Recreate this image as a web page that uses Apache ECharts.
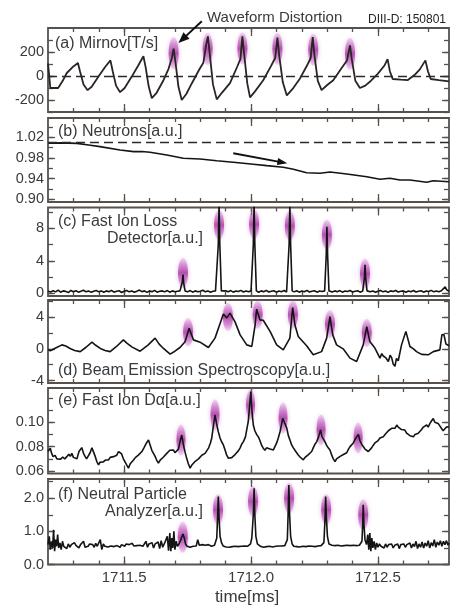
<!DOCTYPE html>
<html><head><meta charset="utf-8">
<script src="https://cdn.jsdelivr.net/npm/echarts@6/dist/echarts.min.js"></script>
<style>html,body{margin:0;padding:0;background:#fff}#c{width:453px;height:607px}</style>
</head><body><div id="c"></div>
<script>
// ---------------- DATA ----------------
const xRange = [1711.2, 1712.78];
const xMinorTicks = [1711.3,1711.4,1711.5,1711.6,1711.7,1711.8,1711.9,1712.0,1712.1,1712.2,1712.3,1712.4,1712.5,1712.6,1712.7];
const xMajorTicks = [1711.5,1712.0,1712.5];
const xTickLabels = [1711.5,1712.0,1712.5];

const yRangeA = [-300, 400], yTicksA = [-300,-200,-100,0,100,200,300], yLabelsA = [-200,0,200];
const yRangeB = [0.895, 1.057], yTicksB = [0.90,0.92,0.94,0.96,0.98,1.00,1.02,1.04], yLabelsB = [0.90,0.94,0.98,1.02];
const yRangeC = [-0.33, 10.56], yTicksC = [0,2,4,6,8,10], yLabelsC = [0,4,8];
const yRangeD = [-4.3, 6.15], yTicksD = [-4,-2,0,2,4,6], yLabelsD = [-4,0,4];
const yRangeE = [0.058, 0.128], yTicksE = [0.06,0.07,0.08,0.09,0.10,0.11,0.12], yLabelsE = [0.06,0.08,0.10];
const yRangeF = [0, 2.58], yTicksF = [0,0.5,1.0,1.5,2.0,2.5], yLabelsF = [0.0,1.0,2.0];

const panelTitles = ['(a) Mirnov[T/s]', '(b) Neutrons[a.u.]', '(c) Fast Ion Loss', 'Detector[a.u.]',
  '(d) Beam Emission Spectroscopy[a.u.]', '(e) Fast Ion D\u03b1[a.u.]', '(f) Neutral Particle', 'Analyzer[a.u.]'];
const topNote = 'Waveform Distortion';
const shotNote = 'DIII-D: 150801';
const xTitle = 'time[ms]';

const mirnovZero = 0;
const neutronRef = 1.0103;
const arrowA = [[1711.806, 456], [1711.714, 275]];
const arrowB = [[1711.930, 0.989], [1712.143, 0.9697]];

const mirnov = [[1711.200,105],[1711.204,20],[1711.209,-100],[1711.240,-100],[1711.258,-40],[1711.274,25],[1711.300,80],[1711.318,108],[1711.326,40],[1711.340,-70],[1711.356,-118],[1711.372,-90],[1711.399,-5],[1711.425,75],[1711.446,130],[1711.455,40],[1711.468,-80],[1711.484,-135],[1711.502,-100],[1711.530,-5],[1711.555,85],[1711.576,165],[1711.585,70],[1711.597,-90],[1711.609,-185],[1711.628,-140],[1711.655,-35],[1711.675,60],[1711.688,150],[1711.695,228],[1711.702,120],[1711.714,-90],[1711.727,-200],[1711.745,-150],[1711.767,-60],[1711.795,50],[1711.812,110],[1711.824,270],[1711.830,330],[1711.837,190],[1711.850,-70],[1711.865,-195],[1711.885,-140],[1711.917,-60],[1711.945,75],[1711.958,140],[1711.966,330],[1711.973,180],[1711.985,-60],[1711.996,-178],[1712.015,-130],[1712.048,-35],[1712.078,80],[1712.095,150],[1712.104,320],[1712.111,170],[1712.125,-50],[1712.141,-162],[1712.163,-110],[1712.193,-20],[1712.220,85],[1712.235,150],[1712.243,325],[1712.250,170],[1712.263,-40],[1712.278,-118],[1712.300,-75],[1712.324,-35],[1712.355,60],[1712.378,130],[1712.390,255],[1712.397,140],[1712.411,-40],[1712.429,-100],[1712.450,-80],[1712.468,-48],[1712.500,20],[1712.525,85],[1712.538,140],[1712.547,40],[1712.558,-25],[1712.590,-30],[1712.618,-34],[1712.645,10],[1712.665,55],[1712.687,130],[1712.697,40],[1712.708,-25],[1712.740,-35],[1712.780,-45]];

const neutrons = [[1711.202,1.0084],[1711.250,1.0090],[1711.314,1.0080],[1711.360,1.005],[1711.405,1.0018],[1711.484,0.9954],[1711.537,0.9921],[1711.570,0.9925],[1711.602,0.9910],[1711.668,0.9858],[1711.733,0.9794],[1711.799,0.9780],[1711.865,0.9747],[1711.930,0.9716],[1712.009,0.9678],[1712.062,0.9651],[1712.127,0.9620],[1712.167,0.9581],[1712.219,0.9515],[1712.272,0.9504],[1712.311,0.9529],[1712.377,0.9490],[1712.456,0.9438],[1712.508,0.9388],[1712.547,0.9407],[1712.587,0.9374],[1712.626,0.9374],[1712.692,0.9330],[1712.718,0.9361],[1712.780,0.9341]];

const fild = [[1711.20,0.30],[1711.21,0.15],[1711.22,0.32],[1711.23,0.18],[1711.24,0.40],[1711.25,0.14],[1711.26,0.30],[1711.27,0.24],[1711.28,0.10],[1711.29,0.35],[1711.30,0.20],[1711.31,0.32],[1711.32,0.14],[1711.33,0.26],[1711.34,0.38],[1711.35,0.18],[1711.36,0.30],[1711.37,0.12],[1711.38,0.26],[1711.39,0.36],[1711.40,0.18],[1711.41,0.30],[1711.42,0.14],[1711.43,0.30],[1711.44,0.20],[1711.45,0.36],[1711.46,0.14],[1711.47,0.26],[1711.48,0.32],[1711.49,0.10],[1711.50,0.26],[1711.51,0.34],[1711.52,0.18],[1711.53,0.30],[1711.54,0.14],[1711.55,0.26],[1711.56,0.40],[1711.57,0.20],[1711.58,0.30],[1711.59,0.12],[1711.60,0.30],[1711.61,0.20],[1711.62,0.36],[1711.63,0.14],[1711.64,0.26],[1711.65,0.30],[1711.66,0.18],[1711.67,0.34],[1711.68,0.14],[1711.69,0.30],[1711.70,0.20],[1711.71,0.26],[1711.72,0.30],[1711.726,0.25],[1711.729,1.4],[1711.732,2.3],[1711.735,1.2],[1711.740,0.3],[1711.75,0.18],[1711.76,0.34],[1711.77,0.14],[1711.78,0.30],[1711.79,0.20],[1711.80,0.26],[1711.81,0.38],[1711.82,0.18],[1711.83,0.30],[1711.84,0.14],[1711.85,0.26],[1711.86,0.30],[1711.866,0.25],[1711.871,6.0],[1711.874,11.0],[1711.877,6.0],[1711.883,0.30],[1711.89,0.16],[1711.90,0.30],[1711.91,0.20],[1711.92,0.34],[1711.93,0.14],[1711.94,0.28],[1711.95,0.22],[1711.96,0.36],[1711.97,0.16],[1711.98,0.28],[1711.99,0.20],[1712.000,0.30],[1712.004,0.25],[1712.009,6.0],[1712.012,11.0],[1712.015,6.0],[1712.021,0.30],[1712.03,0.14],[1712.04,0.30],[1712.05,0.20],[1712.06,0.36],[1712.07,0.16],[1712.08,0.26],[1712.09,0.32],[1712.10,0.14],[1712.11,0.28],[1712.12,0.20],[1712.13,0.34],[1712.14,0.16],[1712.145,0.25],[1712.150,6.0],[1712.153,11.0],[1712.156,6.0],[1712.162,0.30],[1712.17,0.18],[1712.18,0.32],[1712.19,0.14],[1712.20,0.28],[1712.21,0.20],[1712.22,0.36],[1712.23,0.16],[1712.24,0.26],[1712.25,0.32],[1712.26,0.14],[1712.27,0.28],[1712.28,0.22],[1712.29,0.30],[1712.293,0.25],[1712.296,4.5],[1712.299,8.2],[1712.302,4.5],[1712.307,0.30],[1712.32,0.16],[1712.33,0.30],[1712.34,0.20],[1712.35,0.34],[1712.36,0.14],[1712.37,0.28],[1712.38,0.22],[1712.39,0.34],[1712.40,0.16],[1712.41,0.26],[1712.42,0.32],[1712.43,0.14],[1712.44,0.28],[1712.444,0.25],[1712.447,2.0],[1712.449,3.5],[1712.452,1.8],[1712.457,0.30],[1712.47,0.18],[1712.48,0.30],[1712.49,0.14],[1712.50,0.26],[1712.51,0.34],[1712.52,0.18],[1712.53,0.28],[1712.54,0.12],[1712.55,0.30],[1712.56,0.22],[1712.57,0.34],[1712.58,0.16],[1712.59,0.26],[1712.60,0.30],[1712.61,0.14],[1712.62,0.28],[1712.63,0.20],[1712.64,0.34],[1712.65,0.16],[1712.66,0.26],[1712.67,0.32],[1712.68,0.14],[1712.69,0.28],[1712.70,0.22],[1712.71,0.36],[1712.72,0.18],[1712.73,0.28],[1712.74,0.20],[1712.75,0.32],[1712.765,0.8],[1712.77,0.45],[1712.78,0.25]];

const bes = [[1711.200,-0.1],[1711.209,-0.25],[1711.230,0.1],[1711.255,0.5],[1711.270,0.35],[1711.287,0.05],[1711.305,-0.2],[1711.327,-0.35],[1711.350,0.2],[1711.373,0.85],[1711.388,0.45],[1711.406,0.05],[1711.425,-0.2],[1711.445,-0.35],[1711.470,0.3],[1711.497,1.13],[1711.512,0.7],[1711.530,0.25],[1711.563,-0.3],[1711.595,0.5],[1711.622,1.35],[1711.638,0.6],[1711.655,0.05],[1711.681,-0.67],[1711.700,-0.3],[1711.720,0.17],[1711.740,0.9],[1711.756,2.6],[1711.773,1.13],[1711.799,0.84],[1711.832,0.17],[1711.858,1.35],[1711.878,3.2],[1711.891,4.4],[1711.904,3.9],[1711.917,4.5],[1711.937,3.4],[1711.957,1.76],[1711.983,0.5],[1712.003,0.3],[1712.016,3.0],[1712.022,5.0],[1712.035,3.65],[1712.048,3.6],[1712.075,2.2],[1712.101,0.5],[1712.127,-0.13],[1712.153,1.35],[1712.164,5.2],[1712.173,3.0],[1712.186,1.55],[1712.219,0.4],[1712.245,-0.75],[1712.278,-0.35],[1712.298,1.35],[1712.311,4.06],[1712.322,1.76],[1712.337,0.5],[1712.363,0.0],[1712.390,-1.17],[1712.416,-1.6],[1712.442,0.5],[1712.456,2.8],[1712.468,0.92],[1712.488,0.1],[1712.508,-1.17],[1712.515,-0.6],[1712.521,-0.9],[1712.530,-1.1],[1712.541,-1.6],[1712.548,-0.8],[1712.554,-1.1],[1712.560,-1.9],[1712.567,-2.2],[1712.573,-1.2],[1712.580,-1.5],[1712.593,0.5],[1712.610,2.2],[1712.626,0.3],[1712.640,0.0],[1712.652,-0.35],[1712.672,-0.7],[1712.698,-0.75],[1712.718,-0.35],[1712.744,-0.13],[1712.752,1.76],[1712.760,1.8],[1712.768,0.6],[1712.780,0.4]];

const dalpha = [[1711.200,0.0760],[1711.209,0.0787],[1711.215,0.0740],[1711.220,0.0718],[1711.228,0.0728],[1711.235,0.0700],[1711.241,0.0712],[1711.250,0.0698],[1711.258,0.0715],[1711.266,0.0700],[1711.274,0.0718],[1711.282,0.0738],[1711.288,0.0720],[1711.294,0.0745],[1711.300,0.0712],[1711.306,0.0700],[1711.314,0.0700],[1711.322,0.0760],[1711.333,0.0792],[1711.340,0.0745],[1711.346,0.0720],[1711.352,0.0700],[1711.359,0.0710],[1711.366,0.0750],[1711.373,0.0790],[1711.379,0.0800],[1711.386,0.0720],[1711.392,0.0680],[1711.399,0.0650],[1711.405,0.0672],[1711.412,0.0660],[1711.418,0.0675],[1711.426,0.0690],[1711.432,0.0705],[1711.438,0.0690],[1711.445,0.0712],[1711.452,0.0700],[1711.458,0.0718],[1711.464,0.0706],[1711.471,0.0730],[1711.478,0.0760],[1711.484,0.0773],[1711.490,0.0740],[1711.497,0.0700],[1711.504,0.0692],[1711.510,0.0650],[1711.517,0.0624],[1711.524,0.0660],[1711.530,0.0670],[1711.537,0.0690],[1711.544,0.0710],[1711.550,0.0700],[1711.556,0.0730],[1711.563,0.0740],[1711.570,0.0760],[1711.578,0.0790],[1711.588,0.0830],[1711.596,0.0855],[1711.603,0.0810],[1711.609,0.0770],[1711.615,0.0760],[1711.622,0.0720],[1711.628,0.0690],[1711.635,0.0665],[1711.642,0.0690],[1711.648,0.0700],[1711.655,0.0715],[1711.662,0.0730],[1711.668,0.0745],[1711.674,0.0755],[1711.680,0.0770],[1711.687,0.0760],[1711.694,0.0773],[1711.700,0.0750],[1711.707,0.0740],[1711.714,0.0780],[1711.720,0.0840],[1711.727,0.0895],[1711.733,0.0820],[1711.740,0.0755],[1711.747,0.0700],[1711.753,0.0660],[1711.760,0.0624],[1711.767,0.0650],[1711.773,0.0665],[1711.780,0.0680],[1711.787,0.0670],[1711.793,0.0700],[1711.799,0.0705],[1711.806,0.0730],[1711.812,0.0720],[1711.819,0.0745],[1711.826,0.0755],[1711.833,0.0790],[1711.840,0.0830],[1711.845,0.0868],[1711.851,0.0960],[1711.858,0.1059],[1711.864,0.0990],[1711.871,0.0922],[1711.878,0.0870],[1711.884,0.0840],[1711.891,0.0814],[1711.898,0.0770],[1711.904,0.0730],[1711.911,0.0705],[1711.917,0.0692],[1711.924,0.0710],[1711.930,0.0720],[1711.937,0.0735],[1711.944,0.0740],[1711.950,0.0765],[1711.957,0.0790],[1711.963,0.0820],[1711.970,0.0841],[1711.978,0.0880],[1711.984,0.0950],[1711.989,0.1004],[1711.995,0.1150],[1711.999,0.1250],[1712.004,0.1080],[1712.009,0.0977],[1712.015,0.0930],[1712.022,0.0900],[1712.029,0.0880],[1712.035,0.0850],[1712.042,0.0810],[1712.048,0.0787],[1712.055,0.0770],[1712.061,0.0790],[1712.068,0.0795],[1712.075,0.0780],[1712.081,0.0790],[1712.088,0.0773],[1712.094,0.0800],[1712.101,0.0830],[1712.107,0.0868],[1712.114,0.0920],[1712.120,0.0980],[1712.125,0.1032],[1712.133,0.0990],[1712.141,0.0950],[1712.147,0.0890],[1712.154,0.0850],[1712.160,0.0814],[1712.167,0.0790],[1712.173,0.0770],[1712.180,0.0755],[1712.186,0.0732],[1712.193,0.0715],[1712.199,0.0700],[1712.206,0.0692],[1712.212,0.0710],[1712.219,0.0720],[1712.226,0.0735],[1712.232,0.0740],[1712.239,0.0760],[1712.245,0.0790],[1712.252,0.0820],[1712.259,0.0841],[1712.266,0.0880],[1712.274,0.0936],[1712.280,0.0880],[1712.286,0.0860],[1712.291,0.0841],[1712.298,0.0810],[1712.304,0.0790],[1712.311,0.0773],[1712.318,0.0730],[1712.324,0.0700],[1712.331,0.0678],[1712.337,0.0700],[1712.344,0.0715],[1712.351,0.0720],[1712.357,0.0710],[1712.364,0.0735],[1712.371,0.0740],[1712.377,0.0750],[1712.384,0.0780],[1712.390,0.0800],[1712.396,0.0814],[1712.403,0.0830],[1712.410,0.0860],[1712.416,0.0880],[1712.423,0.0900],[1712.429,0.0850],[1712.436,0.0820],[1712.442,0.0801],[1712.449,0.0780],[1712.455,0.0770],[1712.462,0.0760],[1712.468,0.0755],[1712.475,0.0790],[1712.481,0.0810],[1712.488,0.0830],[1712.495,0.0841],[1712.501,0.0850],[1712.508,0.0870],[1712.515,0.0860],[1712.521,0.0880],[1712.528,0.0900],[1712.535,0.0910],[1712.541,0.0930],[1712.548,0.0940],[1712.554,0.0950],[1712.561,0.0960],[1712.567,0.0950],[1712.574,0.0977],[1712.580,0.0960],[1712.587,0.0950],[1712.593,0.0940],[1712.600,0.0930],[1712.606,0.0936],[1712.613,0.0910],[1712.620,0.0900],[1712.626,0.0890],[1712.633,0.0895],[1712.640,0.0880],[1712.646,0.0900],[1712.653,0.0890],[1712.659,0.0910],[1712.665,0.0922],[1712.672,0.0940],[1712.679,0.0960],[1712.685,0.0950],[1712.692,0.0977],[1712.698,0.0960],[1712.705,0.0990],[1712.711,0.1010],[1712.718,0.1030],[1712.724,0.1000],[1712.731,0.1010],[1712.737,0.0990],[1712.744,0.1004],[1712.750,0.0950],[1712.757,0.0930],[1712.764,0.0922],[1712.770,0.0960],[1712.780,0.0963]];

const npa = [[1711.200,0.60],[1711.205,0.85],[1711.209,0.45],[1711.214,0.70],[1711.218,0.50],[1711.222,1.05],[1711.226,0.40],[1711.230,0.75],[1711.234,0.55],[1711.238,0.90],[1711.242,0.50],[1711.247,0.65],[1711.252,0.45],[1711.257,0.70],[1711.262,0.55],[1711.268,0.60],[1711.274,0.48],[1711.280,0.62],[1711.286,0.52],[1711.292,0.60],[1711.298,0.56],[1711.304,0.66],[1711.310,0.58],[1711.316,0.62],[1711.322,0.50],[1711.328,0.60],[1711.334,0.56],[1711.340,0.70],[1711.346,0.52],[1711.352,0.58],[1711.358,0.55],[1711.364,0.62],[1711.370,0.57],[1711.376,0.60],[1711.382,0.52],[1711.388,0.64],[1711.394,0.55],[1711.400,0.60],[1711.406,0.75],[1711.412,0.45],[1711.418,0.62],[1711.424,0.55],[1711.430,0.60],[1711.436,0.53],[1711.442,0.58],[1711.448,0.56],[1711.454,0.62],[1711.460,0.54],[1711.466,0.60],[1711.472,0.57],[1711.478,0.63],[1711.484,0.52],[1711.490,0.60],[1711.496,0.58],[1711.502,0.55],[1711.508,0.62],[1711.514,0.56],[1711.520,0.60],[1711.526,0.54],[1711.532,0.64],[1711.538,0.56],[1711.544,0.60],[1711.550,0.57],[1711.556,0.62],[1711.562,0.58],[1711.568,0.64],[1711.574,0.55],[1711.580,0.60],[1711.586,0.70],[1711.592,0.52],[1711.598,0.62],[1711.604,0.56],[1711.610,0.66],[1711.616,0.50],[1711.622,0.62],[1711.628,0.56],[1711.634,0.68],[1711.640,0.48],[1711.646,0.72],[1711.652,0.52],[1711.658,0.62],[1711.664,0.58],[1711.670,0.85],[1711.675,0.42],[1711.680,0.95],[1711.684,0.40],[1711.688,0.80],[1711.692,0.50],[1711.696,1.00],[1711.700,0.45],[1711.705,0.70],[1711.710,0.55],[1711.716,0.62],[1711.722,0.72],[1711.728,0.85],[1711.732,0.92],[1711.737,0.80],[1711.742,0.62],[1711.748,0.55],[1711.754,0.60],[1711.760,0.52],[1711.766,0.58],[1711.772,0.55],[1711.778,0.60],[1711.784,0.56],[1711.790,0.75],[1711.796,0.58],[1711.802,0.54],[1711.808,0.60],[1711.814,0.56],[1711.820,0.58],[1711.826,0.54],[1711.832,0.60],[1711.838,0.57],[1711.844,0.55],[1711.850,0.60],[1711.856,0.58],[1711.861,0.62],[1711.865,0.80],[1711.868,1.40],[1711.871,2.05],[1711.874,1.40],[1711.878,0.85],[1711.884,0.65],[1711.890,0.56],[1711.896,0.60],[1711.902,0.53],[1711.908,0.58],[1711.914,0.52],[1711.920,0.56],[1711.926,0.54],[1711.932,0.60],[1711.938,0.55],[1711.944,0.57],[1711.950,0.54],[1711.956,0.58],[1711.962,0.55],[1711.968,0.60],[1711.974,0.56],[1711.980,0.58],[1711.986,0.55],[1711.992,0.60],[1711.998,0.62],[1712.003,0.80],[1712.006,0.85],[1712.009,1.50],[1712.012,2.30],[1712.015,1.50],[1712.019,0.85],[1712.025,0.62],[1712.031,0.56],[1712.037,0.55],[1712.043,0.58],[1712.049,0.52],[1712.055,0.56],[1712.061,0.54],[1712.067,0.60],[1712.073,0.55],[1712.079,0.58],[1712.085,0.53],[1712.091,0.57],[1712.097,0.55],[1712.103,0.60],[1712.109,0.56],[1712.115,0.62],[1712.121,0.56],[1712.127,0.60],[1712.133,0.57],[1712.139,0.62],[1712.143,0.75],[1712.146,1.50],[1712.149,2.40],[1712.152,1.50],[1712.156,0.85],[1712.162,0.62],[1712.168,0.55],[1712.174,0.58],[1712.180,0.54],[1712.186,0.56],[1712.192,0.53],[1712.198,0.58],[1712.204,0.55],[1712.210,0.57],[1712.216,0.54],[1712.222,0.58],[1712.228,0.56],[1712.234,0.60],[1712.240,0.55],[1712.246,0.57],[1712.252,0.54],[1712.258,0.58],[1712.264,0.56],[1712.270,0.60],[1712.276,0.57],[1712.282,0.60],[1712.287,0.66],[1712.291,1.30],[1712.294,2.05],[1712.297,1.40],[1712.301,0.85],[1712.307,0.62],[1712.313,0.56],[1712.319,0.58],[1712.325,0.54],[1712.331,0.57],[1712.337,0.55],[1712.343,0.58],[1712.349,0.54],[1712.355,0.56],[1712.361,0.53],[1712.367,0.57],[1712.373,0.55],[1712.379,0.58],[1712.385,0.56],[1712.391,0.57],[1712.397,0.54],[1712.403,0.58],[1712.409,0.55],[1712.415,0.57],[1712.421,0.55],[1712.427,0.58],[1712.433,0.56],[1712.437,0.70],[1712.440,1.20],[1712.442,1.80],[1712.445,1.20],[1712.449,0.75],[1712.455,0.60],[1712.460,0.90],[1712.464,0.45],[1712.468,0.95],[1712.472,0.40],[1712.476,0.80],[1712.480,0.50],[1712.485,0.70],[1712.490,0.45],[1712.495,0.65],[1712.500,0.52],[1712.506,0.62],[1712.512,0.55],[1712.518,0.60],[1712.524,0.50],[1712.530,0.62],[1712.536,0.52],[1712.542,0.60],[1712.548,0.55],[1712.554,0.62],[1712.560,0.50],[1712.566,0.58],[1712.572,0.54],[1712.578,0.62],[1712.584,0.48],[1712.590,0.60],[1712.596,0.55],[1712.602,0.62],[1712.608,0.52],[1712.614,0.60],[1712.620,0.55],[1712.626,0.65],[1712.632,0.50],[1712.638,0.62],[1712.644,0.54],[1712.650,0.70],[1712.656,0.48],[1712.662,0.62],[1712.668,0.52],[1712.674,0.68],[1712.680,0.50],[1712.686,0.65],[1712.692,0.55],[1712.698,0.72],[1712.704,0.50],[1712.710,0.66],[1712.716,0.56],[1712.722,0.75],[1712.728,0.52],[1712.734,0.68],[1712.740,0.58],[1712.746,0.72],[1712.752,0.55],[1712.758,0.70],[1712.764,0.60],[1712.770,0.72],[1712.776,0.58],[1712.780,0.65]];

// highlighted (pink) events, centre of each glow in data units
const hlA = [[1711.695,190],[1711.829,225],[1711.966,230],[1712.104,227],[1712.245,218],[1712.390,185]];
const hlC = [[1711.732,2.5],[1711.874,8.4],[1712.012,8.5],[1712.153,8.3],[1712.299,7.2],[1712.449,2.4]];
const hlD = [[1711.752,2.1],[1711.909,4.0],[1712.026,4.3],[1712.165,4.3],[1712.311,3.1],[1712.456,2.0]];
const hlE = [[1711.724,0.0855],[1711.858,0.1059],[1711.998,0.114],[1712.126,0.1034],[1712.276,0.0936],[1712.422,0.087]];
const hlF = [[1711.731,0.82],[1711.870,1.65],[1712.008,1.9],[1712.150,2.0],[1712.296,1.65],[1712.442,1.5]];

// ---------------- STYLE / LAYOUT ----------------
const FONT = '"Liberation Sans", Arial, sans-serif';
const AX = '#57514d';
const TXT = '#3a3a3a';
const LINE = '#141414';
const ELLIPSE = 'path://M50,0 C77.6,0 100,22.4 100,50 C100,77.6 77.6,100 50,100 C22.4,100 0,77.6 0,50 C0,22.4 22.4,0 50,0 Z';
const PINK = {type:'linear', x:0, y:0, x2:0, y2:1, colorStops:[
  {offset:0, color:'rgba(215,135,215,0.35)'},
  {offset:0.25, color:'rgba(190,85,190,0.7)'},
  {offset:0.5, color:'rgba(160,40,150,0.9)'},
  {offset:0.75, color:'rgba(190,85,190,0.7)'},
  {offset:1, color:'rgba(215,135,215,0.35)'}]};

const layout = [
  {top:28, height:84}, {top:118, height:84}, {top:207.5, height:88.5},
  {top:300, height:83}, {top:388, height:85.5}, {top:479, height:85.5}
];
const GL = 48, GW = 401;

const panels = [
  {range:yRangeA, ticks:yTicksA, labels:yLabelsA, fmt:v=>String(Math.round(v)), data:mirnov, hl:hlA, hlSize:[10,32]},
  {range:yRangeB, ticks:yTicksB, labels:yLabelsB, fmt:v=>v.toFixed(2), data:neutrons, hl:null},
  {range:yRangeC, ticks:yTicksC, labels:yLabelsC, fmt:v=>String(Math.round(v)), data:fild, hl:hlC, hlSize:[10,30]},
  {range:yRangeD, ticks:yTicksD, labels:yLabelsD, fmt:v=>String(Math.round(v)), data:bes, hl:hlD, hlSize:[10,28]},
  {range:yRangeE, ticks:yTicksE, labels:yLabelsE, fmt:v=>v.toFixed(2), data:dalpha, hl:hlE, hlSize:[9,31]},
  {range:yRangeF, ticks:yTicksF, labels:yLabelsF, fmt:v=>v.toFixed(1), data:npa, hl:hlF, hlSize:[10,31]}
];

const tickStyle = {color:AX, width:1.3};
const grids = [], xAxes = [], yAxes = [], series = [];

panels.forEach((p, gi) => {
  grids.push({left:GL, width:GW, top:layout[gi].top, height:layout[gi].height, show:true,
    borderColor:AX, borderWidth:1.8, backgroundColor:'transparent', containLabel:false, outerBoundsMode:'none'});
  const last = gi === panels.length - 1;
  const xb = {type:'value', gridIndex:gi, min:xRange[0], max:xRange[1], splitLine:{show:false},
    axisLine:{show:false, onZero:false}};
  xAxes.push(
    Object.assign({}, xb, {position:'bottom',
      axisTick:{show:true, inside:true, length:4, customValues:xMinorTicks, lineStyle:tickStyle},
      axisLabel:{show:last, customValues:xTickLabels, formatter:v=>v.toFixed(1), fontSize:15, fontFamily:FONT, color:TXT, margin:6}}),
    Object.assign({}, xb, {position:'bottom',
      axisTick:{show:true, inside:true, length:8, customValues:xMajorTicks, lineStyle:tickStyle}, axisLabel:{show:false}}),
    Object.assign({}, xb, {position:'top',
      axisTick:{show:true, inside:true, length:4, customValues:xMinorTicks, lineStyle:tickStyle}, axisLabel:{show:false}}),
    Object.assign({}, xb, {position:'top',
      axisTick:{show:true, inside:true, length:8, customValues:xMajorTicks, lineStyle:tickStyle}, axisLabel:{show:false}})
  );
  const yb = {type:'value', gridIndex:gi, min:p.range[0], max:p.range[1], splitLine:{show:false},
    axisLine:{show:false, onZero:false}};
  yAxes.push(
    Object.assign({}, yb, {position:'left',
      axisTick:{show:true, inside:true, length:7, customValues:p.labels, lineStyle:tickStyle},
      axisLabel:{show:true, customValues:p.labels, formatter:p.fmt, fontSize:14.5, fontFamily:FONT, color:TXT, margin:4}}),
    Object.assign({}, yb, {position:'left',
      axisTick:{show:true, inside:true, length:5, customValues:p.ticks, lineStyle:tickStyle}, axisLabel:{show:false}}),
    Object.assign({}, yb, {position:'right',
      axisTick:{show:true, inside:true, length:7, customValues:p.labels, lineStyle:tickStyle}, axisLabel:{show:false}}),
    Object.assign({}, yb, {position:'right',
      axisTick:{show:true, inside:true, length:5, customValues:p.ticks, lineStyle:tickStyle}, axisLabel:{show:false}})
  );
  if (p.hl) {
    series.push({type:'scatter', xAxisIndex:gi*4, yAxisIndex:gi*4, data:p.hl, symbol:ELLIPSE,
      symbolSize:p.hlSize, silent:true, z:1,
      itemStyle:{color:PINK, shadowBlur:4, shadowColor:'rgba(200,110,200,0.8)'}});
  }
  const s = {type:'line', xAxisIndex:gi*4, yAxisIndex:gi*4, data:p.data, showSymbol:false, symbol:'none',
    silent:true, z:2, lineStyle:{color: gi===0 ? '#2a2422' : LINE, width: gi===0 ? 1.8 : 1.6}};
  if (gi === 0 || gi === 1) {
    s.markLine = {silent:true, symbol:'none', label:{show:false}, animation:false,
      lineStyle:{type:[9,5], color:'#2a2a2a', width:1.4},
      data:[{yAxis: gi === 0 ? mirnovZero : neutronRef}]};
  }
  series.push(s);
});

const chart = echarts.init(document.getElementById('c'), null, {renderer:'canvas'});
chart.setOption({animation:false, backgroundColor:'#fff', grid:grids, xAxis:xAxes, yAxis:yAxes, series:series});

// ---------------- annotations (texts + arrows) ----------------
function txt(s, x, y, size, color) {
  return {type:'text', x:x, y:y, silent:true, z:10,
    style:{text:s, font:'normal ' + size + 'px ' + FONT, fill:color || TXT, textAlign:'left', verticalAlign:'middle', textVerticalAlign:'middle'}};
}
function arrow(gi, pts, headLen, headW, lw) {
  const a = chart.convertToPixel({xAxisIndex:gi*4, yAxisIndex:gi*4}, pts[0]);
  const b = chart.convertToPixel({xAxisIndex:gi*4, yAxisIndex:gi*4}, pts[1]);
  const dx = b[0]-a[0], dy = b[1]-a[1], L = Math.hypot(dx, dy);
  const ux = dx/L, uy = dy/L, nx = -uy, ny = ux;
  const bx = b[0]-ux*headLen, by = b[1]-uy*headLen;
  return [
    {type:'line', z:10, silent:true, shape:{x1:a[0], y1:a[1], x2:bx+ux*2, y2:by+uy*2}, style:{stroke:'#111', lineWidth:lw}},
    {type:'polygon', z:10, silent:true, shape:{points:[[b[0],b[1]],[bx+nx*headW/2, by+ny*headW/2],[bx-nx*headW/2, by-ny*headW/2]]}, style:{fill:'#111'}}
  ];
}
const graphics = [
  txt(topNote, 207, 18, 15),
  txt(shotNote, 368, 20, 12, '#222'),
  txt(panelTitles[0], 55, 44, 16),
  txt(panelTitles[1], 58, 132, 16),
  txt(panelTitles[2], 58, 222, 16),
  txt(panelTitles[3], 107, 239, 16),
  txt(panelTitles[4], 58, 371, 16),
  txt(panelTitles[5], 58, 401, 16),
  txt(panelTitles[6], 58, 495, 16),
  txt(panelTitles[7], 105, 512, 16),
  {type:'text', x:247, y:597, silent:true, z:10, style:{text:xTitle, font:'normal 17px ' + FONT, fill:TXT, textAlign:'center', verticalAlign:'middle'}}
].concat(arrow(0, arrowA, 11, 9, 2)).concat(arrow(1, arrowB, 10, 7, 1.8));
chart.setOption({graphic: graphics});
</script></body></html>
